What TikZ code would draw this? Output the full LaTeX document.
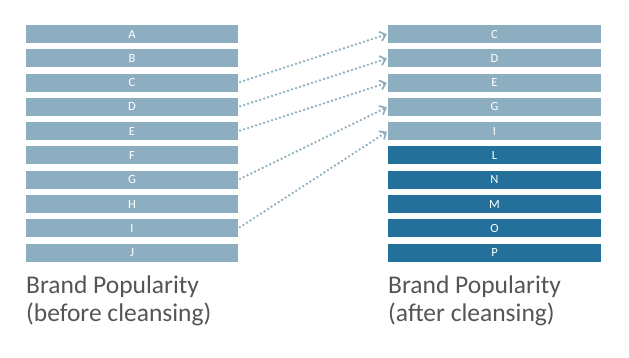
\documentclass[tikz,border=0pt]{standalone}
\usepackage{fontspec}
\setmainfont{Carlito}
\usetikzlibrary{arrows.meta}
\definecolor{blight}{HTML}{8DADC0}
\definecolor{bdark}{HTML}{23709A}
\definecolor{bgray}{HTML}{555555}

\begin{document}
\begin{tikzpicture}[x=1pt,y=-1pt,
  bar/.style={fill=blight,text=white,minimum width=212pt,minimum height=18pt,
              inner sep=0pt,font=\fontsize{12.5}{12.5}\selectfont},
  hot/.style={bar,fill=bdark},
  brandcap/.style={anchor=base west,text=bgray,align=left,inner sep=0pt,
              font=\fontsize{25.5}{28}\selectfont},
  a/.style={-{Straight Barb[length=1.9mm,width=3.4mm,line width=1.7pt]},
            draw=blight,line width=2.6pt,line cap=round,
            dash pattern=on 0pt off 4.2pt,shorten <=2pt,shorten >=1pt}
]
\useasboundingbox (0,0) rectangle (629,358);

% before
\foreach \t [count=\i from 0] in {A,B,C,D,E,F,G,H,I,J}
  \node[bar] (l\t) at (132,34+24.3*\i) {\t};
% after
\foreach \t [count=\i from 0] in {C,D,E,G,I}
  \node[bar,minimum width=213pt] (r\t) at (494.5,34+24.3*\i) {\t};
\foreach \t [count=\i from 5] in {L,N,M,O,P}
  \node[hot,minimum width=213pt] (r\t) at (494.5,34+24.3*\i) {\t};

\foreach \a in {C,D,E,G,I}
  {\draw[a] (l\a.east) -- (r\a.west);}

% base anchor sits on the last line
\node[brandcap] (lcap) at (26,321) {Brand Popularity\\(before cleansing)};
\node[brandcap] (rcap) at (388,321) {Brand Popularity\\(after cleansing)};
\end{tikzpicture}
\end{document}
